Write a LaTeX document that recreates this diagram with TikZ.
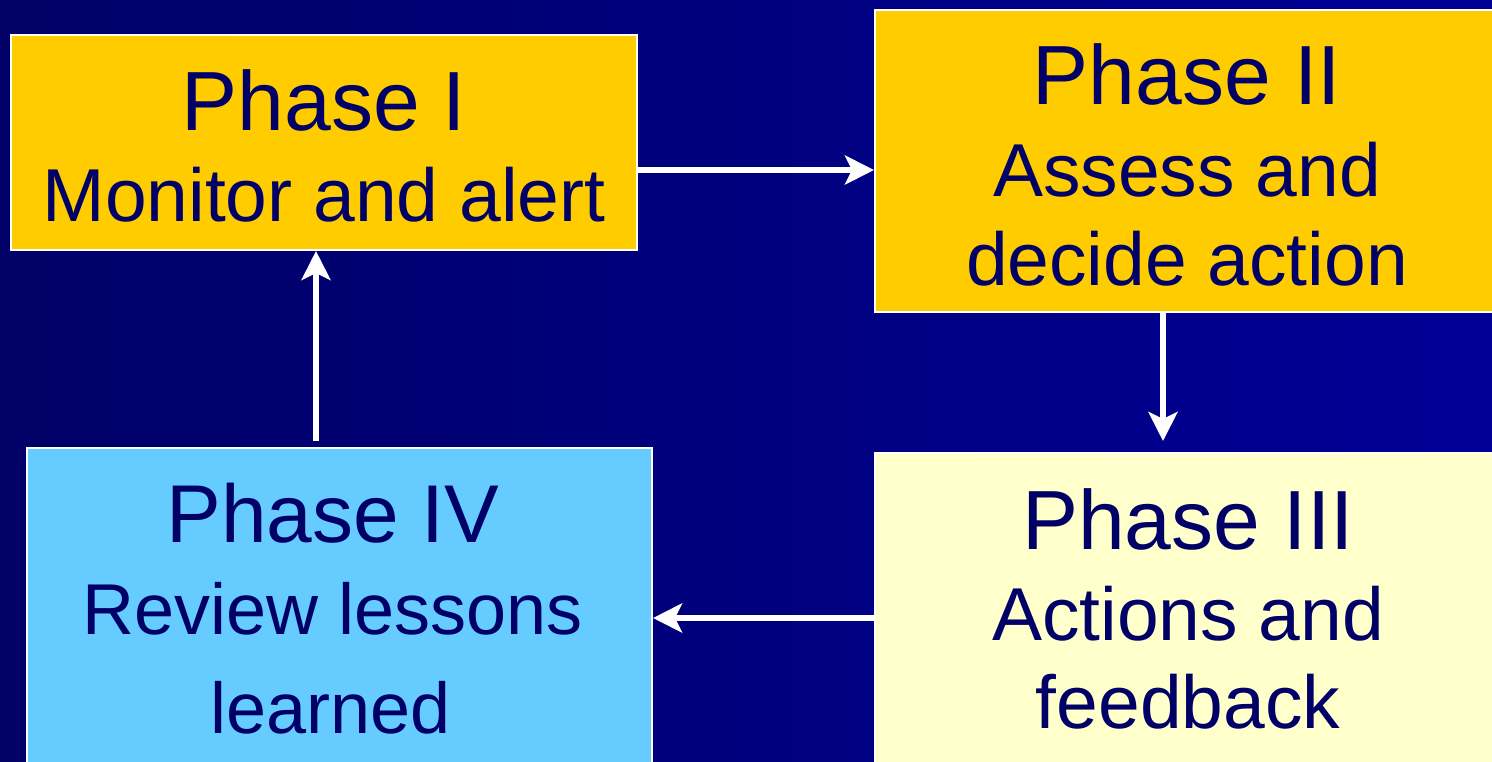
\documentclass[tikz,border=0pt]{standalone}
\usepackage{fontspec}
\setmainfont{Liberation Sans}
\usetikzlibrary{arrows.meta}

\definecolor{navytext}{HTML}{000066}
\definecolor{bgleft}{HTML}{000066}
\definecolor{bgright}{HTML}{000096}
\definecolor{gold}{HTML}{FFCC00}
\definecolor{cream}{HTML}{FFFFCC}
\definecolor{sky}{HTML}{66CCFF}

\tikzset{
  phasebox/.style={draw=white, line width=1pt, rectangle, inner sep=0pt},
  titletext/.style={text=navytext, anchor=base, inner sep=0pt,
    font=\fontsize{42}{48}\selectfont},
  bodytext/.style={text=navytext, anchor=base, inner sep=0pt,
    font=\fontsize{37.5}{44}\selectfont},
  smalltitle/.style={titletext, font=\fontsize{41}{47}\selectfont},
  smallbody/.style={bodytext, font=\fontsize{36}{42}\selectfont},
  flow/.style={draw=white, line width=3.3pt,
    -{Stealth[length=14.5pt, width=14.5pt, inset=3.5pt]}}
}

\begin{document}
\begin{tikzpicture}[x=0.5pt, y=-0.5pt]
  % canvas with a horizontal navy gradient
  \useasboundingbox (0,0) rectangle (1492,761);
  \shade[left color=bgleft, right color=bgright] (0,0) rectangle (1492,761);

  % the four phase boxes
  \node[phasebox, fill=gold, minimum width=313pt, minimum height=107.5pt]
    (p1) at (324,142.5) {};
  \node[phasebox, fill=gold, minimum width=312.5pt, minimum height=151pt]
    (p2) at (1187.5,161) {};
  \node[phasebox, fill=cream, minimum width=312.5pt, minimum height=160pt]
    (p3) at (1187.5,613) {};
  \node[phasebox, fill=sky, minimum width=312.5pt, minimum height=162pt]
    (p4) at (339.5,610) {};

  % box texts
  \node[titletext] (t1) at (324,130.7) {Phase I};
  \node[bodytext]  (b1) at (324,221.7) {Monitor and alert};

  \node[titletext] (t2) at (1187,104) {Phase II};
  \node[bodytext]  (b2a) at (1187,196) {Assess and};
  \node[bodytext]  (b2b) at (1187,285) {decide action};

  \node[titletext] (t3) at (1188,549) {Phase III};
  \node[bodytext]  (b3a) at (1188,640) {Actions and};
  \node[bodytext]  (b3b) at (1188,728) {feedback};

  \node[smalltitle] (t4) at (333,542) {Phase IV};
  \node[smallbody]  (b4a) at (333,634) {Review lessons};
  \node[smallbody]  (b4b) at (331,733) {learned};

  % connector anchor points
  \coordinate (c12) at (637,170);
  \coordinate (c23) at (1163,312);
  \coordinate (e23) at (1163,441);
  \coordinate (c34) at (875,618);
  \coordinate (c41) at (316,441);

  % cycle of arrows
  \draw[flow] (c12) -- (c12 -| p2.west);
  \draw[flow] (c23) -- (e23);
  \draw[flow] (c34) -- (c34 -| p4.east);
  \draw[flow] (c41) -- (c41 |- p1.south);
\end{tikzpicture}
\end{document}
